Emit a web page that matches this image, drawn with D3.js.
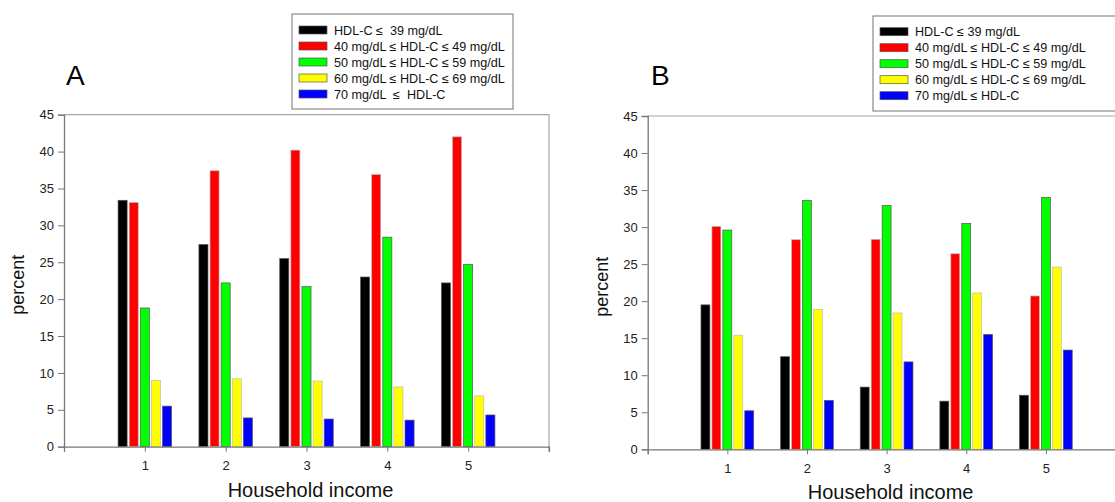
<!DOCTYPE html>
<html>
<head>
<meta charset="utf-8">
<script src="https://cdn.jsdelivr.net/npm/d3@7"></script>
<style>
html,body{margin:0;padding:0;background:#fff;overflow:hidden;}
svg{display:block;font-family:"Liberation Sans",Arial,sans-serif;}
</style>
</head>
<body>
<svg id="chart" width="1115" height="502"></svg>
<script>
// ---- data ----
const categories = [1, 2, 3, 4, 5];
const seriesNames = ["HDL-C ≤ 39", "40–49", "50–59", "60–69", "≥ 70"];
const seriesColors = ["#000000", "#ff0000", "#00ff00", "#ffff00", "#0000ff"];
const legendLabelsA = ["HDL-C ≤  39 mg/dL", "40 mg/dL ≤ HDL-C ≤ 49 mg/dL", "50 mg/dL ≤ HDL-C ≤ 59 mg/dL", "60 mg/dL ≤ HDL-C ≤ 69 mg/dL", "70 mg/dL  ≤  HDL-C"];
const legendLabelsB = ["HDL-C ≤ 39 mg/dL", "40 mg/dL ≤ HDL-C ≤ 49 mg/dL", "50 mg/dL ≤ HDL-C ≤ 59 mg/dL", "60 mg/dL ≤ HDL-C ≤ 69 mg/dL", "70 mg/dL ≤ HDL-C"];
// Panel A values (per series, across income groups 1..5)
const a_le39  = [33.4, 27.4, 25.5, 23.0, 22.2];
const a_40_49 = [33.1, 37.4, 40.2, 36.9, 42.0];
const a_50_59 = [18.8, 22.2, 21.7, 28.4, 24.7];
const a_60_69 = [9.0, 9.2, 8.9, 8.1, 6.9];
const a_ge70  = [5.5, 3.9, 3.75, 3.6, 4.3];
// Panel B values
const b_le39  = [19.5, 12.5, 8.4, 6.5, 7.3];
const b_40_49 = [30.1, 28.3, 28.35, 26.4, 20.7];
const b_50_59 = [29.6, 33.6, 32.9, 30.5, 34.0];
const b_60_69 = [15.4, 18.9, 18.4, 21.1, 24.6];
const b_ge70  = [5.2, 6.6, 11.8, 15.5, 13.4];
const yTicks = [0, 5, 10, 15, 20, 25, 30, 35, 40, 45];
const xTicks = [0, 1, 2, 3, 4, 5, 6];
const xLabel = "Household income";
const yLabel = "percent";

const svg = d3.select("#chart");

function drawPanel(cfg) {
  const g = svg.append("g");
  const x = d3.scaleLinear().domain([0, 6]).range([cfg.x0, cfg.x1]);
  const y = d3.scaleLinear().domain([0, 45]).range([cfg.y0, cfg.y1]);
  const barW = 0.112, pitch = 0.1375;

  // frame (top + right)
  g.append("path")
    .attr("d", d3.line()([[x(0), y(45)], [x(6), y(45)], [x(6), y(0) + 5]]))
    .attr("fill", "none").attr("stroke", "#a8a8a8").attr("stroke-width", 1.2);

  // bars
  cfg.series.forEach((vals, j) => {
    g.selectAll(null).data(vals).enter().append("rect")
      .attr("x", (d, i) => x(categories[i] + (j - 2) * pitch - barW / 2))
      .attr("width", x(barW) - x(0))
      .attr("y", d => y(d))
      .attr("height", d => y(0) - y(d))
      .attr("fill", seriesColors[j])
      .attr("stroke", j === 1 || j === 3 ? "#bbbbbb" : "#555555")
      .attr("stroke-width", 0.7);
  });

  // axes
  const ya = g.append("g").attr("transform", `translate(${x(0)},0)`)
    .call(d3.axisLeft(y).tickValues(yTicks).tickSize(6).tickPadding(4));
  const xa = g.append("g").attr("transform", `translate(0,${y(0)})`)
    .call(d3.axisBottom(x).tickValues(xTicks).tickSize(5).tickPadding(9)
      .tickFormat(d => (d >= 1 && d <= 5) ? d : ""));
  [ya, xa].forEach(a => {
    a.select(".domain").attr("stroke", "#777").attr("stroke-width", 1.3);
    a.selectAll(".tick line").attr("stroke", "#777").attr("stroke-width", 1);
    a.selectAll(".tick text").attr("fill", "#222").style("font-size", "13px")
      .style("font-family", '"Liberation Sans",Arial,sans-serif');
  });

  // axis titles
  g.append("text").attr("x", (x(0) + x(6)) / 2 + 4).attr("y", cfg.y0 + 50)
    .attr("text-anchor", "middle").attr("fill", "#111").style("font-size", "20px").text(xLabel);
  g.append("text").attr("transform", `translate(${cfg.yLabX},${(cfg.y0 + cfg.y1) / 2 + 4}) rotate(-90)`)
    .attr("text-anchor", "middle").attr("fill", "#111").style("font-size", "18px").text(yLabel);

  // panel letter
  g.append("text").attr("x", cfg.letterX).attr("y", 85).attr("fill", "#000")
    .style("font-size", "28px").text(cfg.letter);

  // legend
  const L = cfg.legend;
  g.append("rect").attr("x", L.x).attr("y", L.y).attr("width", L.w).attr("height", L.h)
    .attr("fill", "#fff").attr("stroke", "#8a8a8a").attr("stroke-width", 1.2);
  cfg.legendLabels.forEach((lab, j) => {
    const cy = L.y + L.first + j * L.step;
    g.append("rect").attr("x", L.x + 7).attr("y", cy - 4).attr("width", 28).attr("height", 8)
      .attr("fill", seriesColors[j]).attr("stroke", "#555").attr("stroke-width", 0.7);
    g.append("text").attr("x", L.x + 42).attr("y", cy + 4.5).attr("fill", "#111")
      .attr("xml:space", "preserve").style("white-space", "pre")
      .style("font-size", "12.6px").text(lab);
  });
}

drawPanel({
  x0: 64, x1: 549, y0: 446.7, y1: 114.7, yLabX: 24, letter: "A", letterX: 66,
  series: [a_le39, a_40_49, a_50_59, a_60_69, a_ge70],
  legendLabels: legendLabelsA,
  legend: { x: 292, y: 14, w: 221, h: 95, first: 16, step: 16 }
});
drawPanel({
  x0: 647.7, x1: 1125.5, y0: 449.3, y1: 116, yLabX: 608, letter: "B", letterX: 651,
  series: [b_le39, b_40_49, b_50_59, b_60_69, b_ge70],
  legendLabels: legendLabelsB,
  legend: { x: 873, y: 16, w: 260, h: 95, first: 15.7, step: 16 }
});
</script>
</body>
</html>
